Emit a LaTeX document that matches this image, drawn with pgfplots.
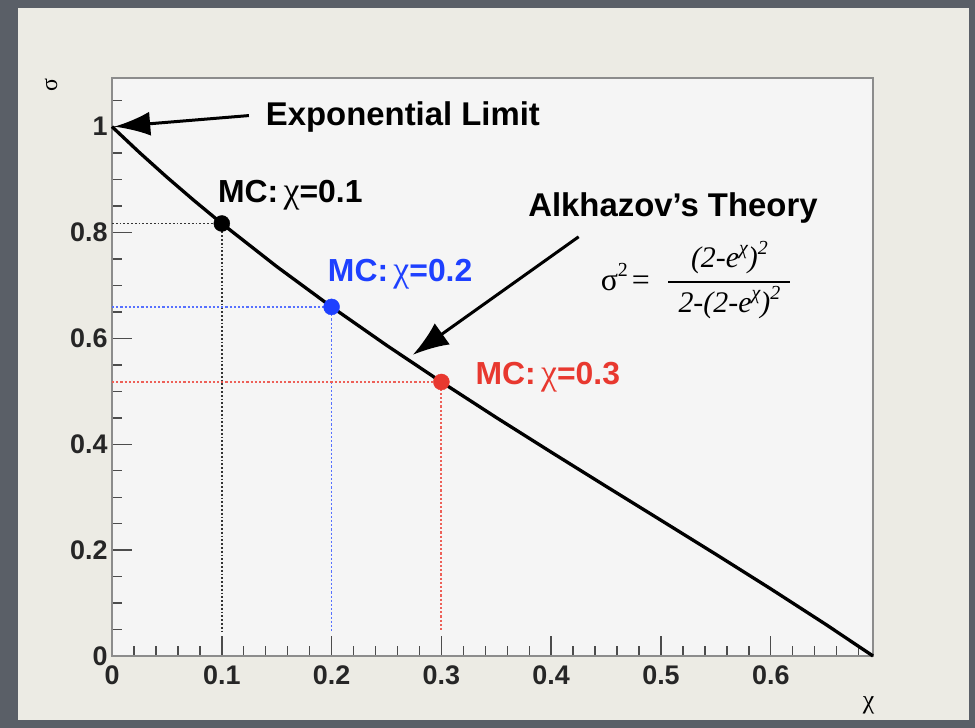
\documentclass[border=0pt]{standalone}
\usepackage{fontspec}
\setmainfont{Liberation Sans}
\newfontfamily\serifg{Liberation Serif}
\usepackage{pgfplots}
\pgfplotsset{compat=1.18}
\usetikzlibrary{arrows.meta}
\definecolor{outerbg}{HTML}{5A5F67}
\definecolor{panelbg}{HTML}{ECEBE4}
\definecolor{plotbg}{HTML}{F5F5F5}
\definecolor{framec}{HTML}{8C8C8C}
\definecolor{rootblue}{HTML}{1E40FF}
\definecolor{rootred}{HTML}{E8382F}
\newcommand{\gx}{{\serifg\mdseries\fontsize{36}{36}\selectfont χ}}
\newcommand{\upsc}[1]{\raisebox{0.45em}{\fontsize{20}{20}\selectfont #1}}
\begin{document}
\begin{tikzpicture}[x=1bp,y=1bp]
\useasboundingbox (0,0) rectangle (975,728);
\fill[outerbg] (0,0) rectangle (975,728);
\fill[panelbg] (18,8) rectangle (969,720);
\begin{axis}[
  at={(112bp,72bp)}, anchor=south west,
  width=761bp, height=578bp, scale only axis,
  xmin=0, xmax=0.6931, ymin=0, ymax=1.092,
  clip=false,
  axis background/.style={fill=plotbg},
  axis line style={draw=framec, line width=2bp},
  tick align=inside, tick pos=left,
  xtick={0,0.1,0.2,0.3,0.4,0.5,0.6},
  ytick={0,0.2,0.4,0.6,0.8,1},
  minor xtick={0.02,0.04,...,0.68},
  minor ytick={0.05,0.1,...,1.06},
  major tick length=20bp, minor tick length=10bp,
  every tick/.style={draw=black!70, line width=1.4bp},
  /pgf/number format/assume math mode=true,
  /pgf/number format/fixed, /pgf/number format/precision=1,
  ticklabel style={font=\fontsize{27}{27}\selectfont\bfseries, text=black!85},
  xticklabel style={yshift=-6bp},
  yticklabel style={xshift=-1bp},
]
% theory curve (values of sigma read at chi = 0 ... ln2)
\addplot[black, line width=3.3bp] coordinates {
 (0,1) (0.025,0.9512) (0.05,0.9046) (0.075,0.8600) (0.1,0.8171) (0.15,0.7358)
 (0.2,0.6595) (0.25,0.5871) (0.3,0.5177) (0.35,0.4505) (0.4,0.3851)
 (0.45,0.3205) (0.5,0.2564) (0.55,0.1921) (0.6,0.1268) (0.65,0.0598) (0.6931,0)};
% dotted guides
\addplot[black!80, line width=1.8bp, dash pattern=on 1.8bp off 2bp] coordinates {(0,0.8171) (0.1,0.8171) (0.1,0.045)};
\addplot[rootblue!75, line width=1.8bp, dash pattern=on 2.2bp off 2bp] coordinates {(0,0.6595) (0.2,0.6595) (0.2,0.045)};
\addplot[rootred!80, line width=1.8bp, dash pattern=on 2.2bp off 2bp] coordinates {(0,0.5177) (0.3,0.5177) (0.3,0.045)};
% MC points
\addplot[only marks, mark=*, mark size=8bp, black] coordinates {(0.1,0.8171)};
\addplot[only marks, mark=*, mark size=8bp, rootblue, mark options={fill=rootblue}] coordinates {(0.2,0.6595)};
\addplot[only marks, mark=*, mark size=8bp, rootred, mark options={fill=rootred}] coordinates {(0.3,0.5177)};
% arrows
\draw[line width=3bp, -{Latex[length=36bp,width=24bp]}] (axis cs:0.1247,1.021) -- (axis cs:0.002,1.0);
\draw[line width=3bp, -{Latex[length=36bp,width=26bp]}] (axis cs:0.425,0.792) -- (axis cs:0.274,0.569);
% texts
\node[anchor=base west, font=\fontsize{33}{33}\selectfont\bfseries, inner sep=0] at (axis cs:0.140,1.002) {Exponential Limit};
\node[anchor=base west, font=\fontsize{32}{32}\selectfont\bfseries, inner sep=0] at (axis cs:0.0965,0.856) {MC:\,\gx=0.1};
\node[anchor=base west, font=\fontsize{32}{32}\selectfont\bfseries, inner sep=0, text=rootblue] at (axis cs:0.1965,0.707) {MC:\,\gx=0.2};
\node[anchor=base west, font=\fontsize{32}{32}\selectfont\bfseries, inner sep=0, text=rootred] at (axis cs:0.331,0.512) {MC:\,\gx=0.3};
\node[anchor=base west, font=\fontsize{33}{33}\selectfont\bfseries, inner sep=0] at (axis cs:0.379,0.830) {Alkhazov\symbol{39}s Theory};
% formula
\node[anchor=base west, font=\fontsize{32}{32}\selectfont\serifg, inner sep=0] at (axis cs:0.445,0.690) {σ\upsc{2}\hspace{4bp}=};
\draw[line width=1.8bp] (axis cs:0.5068,0.707) -- (axis cs:0.6178,0.707);
\node[anchor=base, font=\fontsize{30}{30}\selectfont\serifg\itshape, inner sep=0] at (axis cs:0.5623,0.7335) {(2-e\upsc{χ})\upsc{2}};
\node[anchor=base, font=\fontsize{30}{30}\selectfont\serifg\itshape, inner sep=0] at (axis cs:0.5623,0.6480) {2-(2-e\upsc{χ})\upsc{2}};
% axis titles
\node[font=\fontsize{24}{24}\selectfont\serifg, rotate=90, inner sep=0] at (axis cs:-0.0555,1.0794) {σ};
\node[font=\fontsize{26}{26}\selectfont\serifg, inner sep=0] at (axis cs:0.689,-0.0926) {χ};
\end{axis}
\end{tikzpicture}
\end{document}
